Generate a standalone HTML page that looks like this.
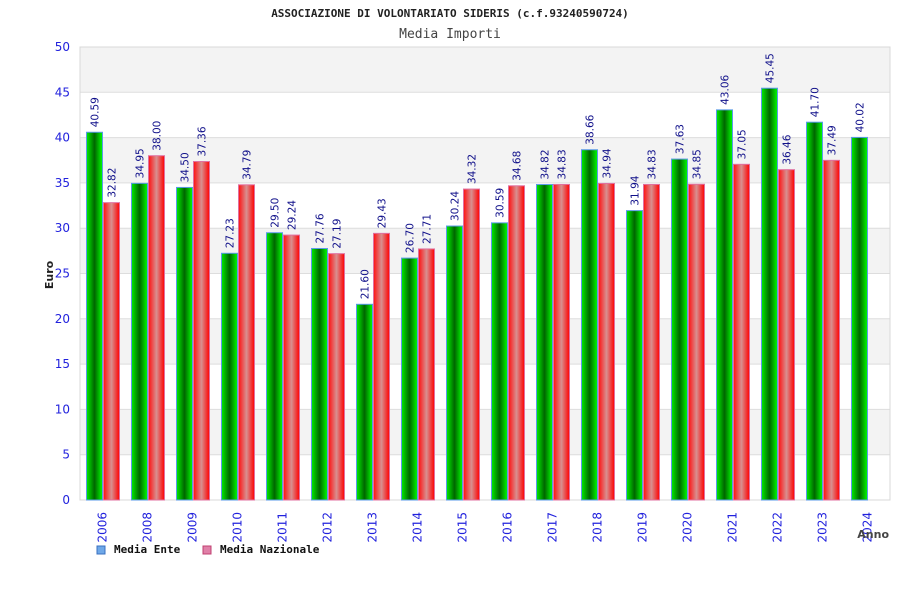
<!DOCTYPE html>
<html><head><meta charset="utf-8"><style>
body{margin:0;background:#fff;}
svg{display:block;font-family:"DejaVu Sans","Liberation Sans",sans-serif;}
</style></head><body>
<svg id="c" width="900" height="600">
<defs>
<linearGradient id="gG" x1="0" x2="1" y1="0" y2="0"><stop offset="0" stop-color="#00ee00"/><stop offset="0.5" stop-color="#006600"/><stop offset="1" stop-color="#00ff00"/></linearGradient>
<linearGradient id="gR" x1="0" x2="1" y1="0" y2="0"><stop offset="0" stop-color="#ff1010"/><stop offset="0.5" stop-color="#d89090"/><stop offset="1" stop-color="#ff0000"/></linearGradient>
</defs>
<text x="450" y="17" text-anchor="middle" font-size="11" font-weight="bold" fill="#222" font-family="DejaVu Sans Mono,Liberation Mono,monospace">ASSOCIAZIONE DI VOLONTARIATO SIDERIS (c.f.93240590724)</text>
<text x="450" y="38" text-anchor="middle" font-size="13" fill="#444" font-family="DejaVu Sans Mono,Liberation Mono,monospace">Media Importi</text>
<g id="grid"></g>
<g id="bars"></g>
<g id="labels"></g>
<text transform="translate(53,275) rotate(-90)" text-anchor="middle" font-size="11" font-weight="bold" fill="#222">Euro</text>
<text x="889" y="538" text-anchor="end" font-size="11" font-weight="bold" fill="#444">Anno</text>
<g><rect x="97" y="546" width="8" height="8" fill="#6fa8e8" stroke="#3a70c0"/><text x="114" y="553" font-size="11" font-weight="bold" fill="#111" font-family="DejaVu Sans Mono,Liberation Mono,monospace">Media Ente</text></g>
<g><rect x="203" y="546" width="8" height="8" fill="#e080a8" stroke="#c04070"/><text x="220" y="553" font-size="11" font-weight="bold" fill="#111" font-family="DejaVu Sans Mono,Liberation Mono,monospace">Media Nazionale</text></g>
</svg>
<script>
const categories=["2006","2008","2009","2010","2011","2012","2013","2014","2015","2016","2017","2018","2019","2020","2021","2022","2023","2024"];
const enteValues=[40.59,34.95,34.50,27.23,29.50,27.76,21.60,26.70,30.24,30.59,34.82,38.66,31.94,37.63,43.06,45.45,41.70,40.02];
const nazValues=[32.82,38.00,37.36,34.79,29.24,27.19,29.43,27.71,34.32,34.68,34.83,34.94,34.83,34.85,37.05,36.46,37.49,null];
const yTicks=[0,5,10,15,20,25,30,35,40,45,50];
const NS="http://www.w3.org/2000/svg";
const L=80,R=890,T=47,B=500,yMax=50;
const y=v=>B-(v/yMax)*(B-T);
const bw=(R-L)/categories.length;
const xc=i=>L+bw*i+bw/2;
function mk(t,a,p){const e=document.createElementNS(NS,t);for(const k in a)e.setAttribute(k,a[k]);p.appendChild(e);return e;}
const grid=document.getElementById('grid'),bars=document.getElementById('bars'),labels=document.getElementById('labels');
for(let k=0;k<yTicks.length-1;k++){
  if(k%2===1){const r=mk('rect',{x:L,y:y(yTicks[k+1]),width:R-L,height:y(yTicks[k])-y(yTicks[k+1]),fill:'#f3f3f3'},grid);
  
  }
}
yTicks.forEach(t=>{
  const ln=mk('line',{x1:L,x2:R,y1:y(t),y2:y(t),stroke:'#dddddd'},grid);
  
  
  const tx=mk('text',{x:70,y:y(t)+4,'text-anchor':'end','font-size':12,fill:'#2222dd'},grid);
  tx.textContent=t;
  
  
});
const fr=mk('rect',{x:L,y:T,width:R-L,height:B-T,fill:'none',stroke:'#d8d8d8'},grid);


function lab(x,v){
  const t=mk('text',{transform:`translate(${x+4},${y(v)-5}) rotate(-90)`,'font-size':10.5,fill:'#10108a'},labels);
  t.textContent=v.toFixed(2);
  
  
}
categories.forEach((c,i)=>{
  const cx=xc(i);
  const v=enteValues[i];
  const g=mk('rect',{x:cx-16,y:y(v),width:16,height:B-y(v),fill:'url(#gG)',stroke:'#5a9ae8','stroke-width':1},bars);
  
  
  lab(cx-8,v);
  const n=nazValues[i];
  if(n!=null){
    const r=mk('rect',{x:cx+1,y:y(n),width:16,height:B-y(n),fill:'url(#gR)',stroke:'#e070a0','stroke-width':1},bars);
    
    
    lab(cx+9,n);
  }
  const t=mk('text',{transform:`translate(${cx+4},${512}) rotate(-90)`,'text-anchor':'end','font-size':12,fill:'#2222dd'},labels);
  t.textContent=c;
  
  
});
</script>
</body></html>
